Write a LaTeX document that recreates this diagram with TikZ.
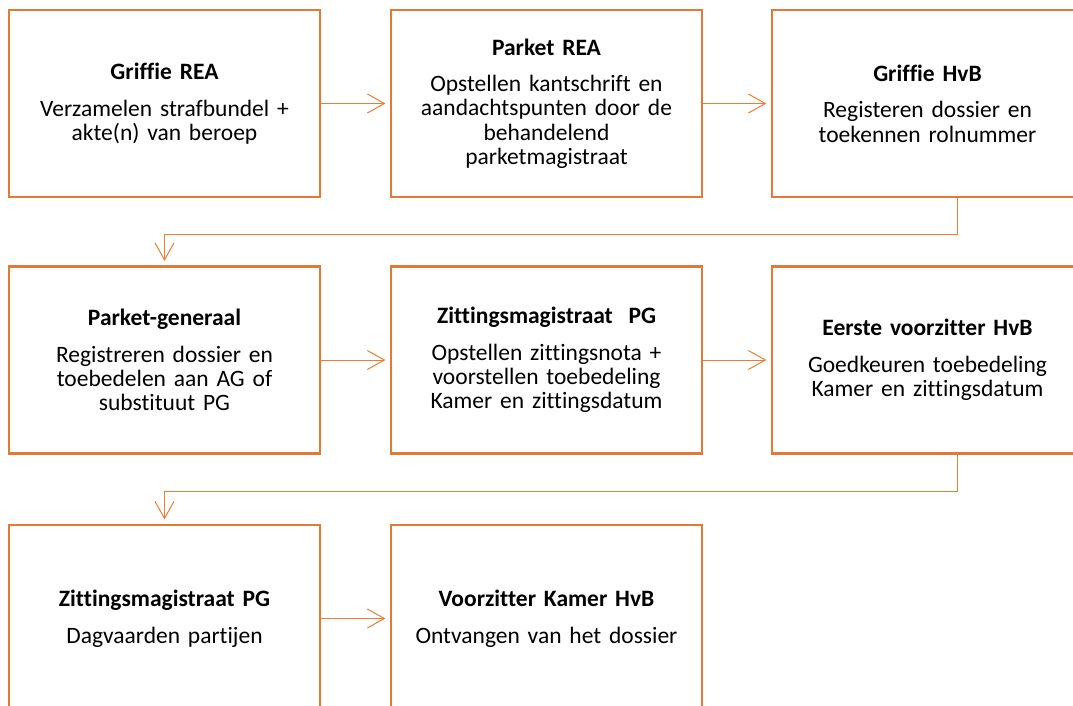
\documentclass[tikz,border=0pt]{standalone}
\usepackage{fontspec}
\setmainfont{Carlito}[Ligatures=NoCommon]
\usetikzlibrary{arrows.meta}
\definecolor{boxorange}{HTML}{E07A36}
\definecolor{lineorange}{HTML}{ED7D31}
\tikzset{
  stepbox/.style={draw=boxorange, line width=2.2pt, fill=white, minimum width=311pt, minimum height=187pt, inner sep=0pt, align=center, text width=305pt, font=\fontsize{23.5}{24.2}\selectfont},
  conn/.style={draw=lineorange, line width=1pt, -{Straight Barb[length=17pt,width=19pt]}, shorten >=4.5pt}
}
\newcommand{\boxtxt}[2]{{\bfseries #1}\\[12.5pt]#2}
\begin{document}
\begin{tikzpicture}[x=1pt,y=-1pt]
\useasboundingbox (0,0) rectangle (1073,706);
\clip (0,0) rectangle (1073,706);
\node[stepbox] (b11) at (164.5,103.5) {\boxtxt{Griffie REA}{Verzamelen strafbundel +\\akte(n) van beroep}};
\node[stepbox] (b12) at (546.5,103.5) {\boxtxt{Parket REA}{Opstellen kantschrift en\\aandachtspunten door de\\behandelend\\parketmagistraat}};
\node[stepbox] (b13) at (927.5,103.5) {\boxtxt{Griffie HvB}{Registeren dossier en\\toekennen rolnummer}};
\node[stepbox] (b21) at (164.5,360) {\boxtxt{Parket-generaal}{Registreren dossier en\\toebedelen aan AG of\\substituut PG}};
\node[stepbox] (b22) at (546.5,360) {\boxtxt{Zittingsmagistraat\ \ PG}{Opstellen zittingsnota +\\voorstellen toebedeling\\Kamer en zittingsdatum}};
\node[stepbox] (b23) at (927.5,360) {\boxtxt{Eerste voorzitter HvB}{Goedkeuren toebedeling\\Kamer en zittingsdatum}};
\node[stepbox] (b31) at (164.5,618.5) {\boxtxt{Zittingsmagistraat PG}{Dagvaarden partijen}};
\node[stepbox] (b32) at (546.5,618.5) {\boxtxt{Voorzitter Kamer HvB}{Ontvangen van het dossier}};
\draw[conn] (b11.east) -- (b12.west);
\draw[conn] (b12.east) -- (b13.west);
\draw[conn] (b21.east) -- (b22.west);
\draw[conn] (b22.east) -- (b23.west);
\draw[conn] (b31.east) -- (b32.west);
\draw[conn] ([xshift=29.5pt]b13.south) -- ++(0,36) -| (b21.north);
\draw[conn] ([xshift=29.5pt]b23.south) -- ++(0,37) -| (b31.north);
\end{tikzpicture}
\end{document}
